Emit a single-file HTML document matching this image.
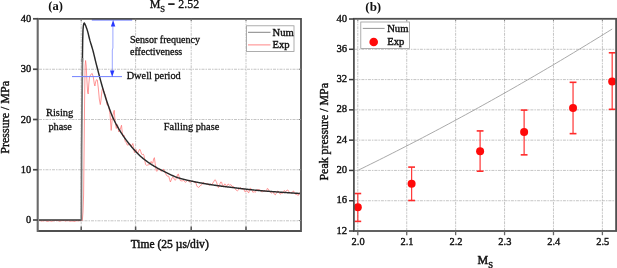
<!DOCTYPE html>
<html><head><meta charset="utf-8"><style>
html,body{margin:0;padding:0;background:#fff;}
svg{display:block;filter:blur(0.5px);}
text{font-family:"Liberation Serif", serif;fill:#111;stroke:#111;stroke-width:0.3px;}
.g{stroke:#a6a6a6;stroke-width:0.65;stroke-dasharray:3 1 1.5 1;}
.tk{font-size:10.4px;stroke-width:0.38px;}
.lg{font-size:10.6px;stroke-width:0.4px;}
.an{font-size:10.05px;}
.tt{font-size:13px;font-weight:bold;stroke-width:0;}
.mt{font-size:12px;}
.al{font-size:11.5px;stroke-width:0.45px;}
</style></head><body>
<svg width="617" height="268" viewBox="0 0 617 268">
<rect width="617" height="268" fill="#fff"/>
<line x1="39" y1="169.75" x2="300" y2="169.75" class="g"/>
<line x1="39" y1="119.50" x2="300" y2="119.50" class="g"/>
<line x1="39" y1="69.25" x2="300" y2="69.25" class="g"/>
<line x1="39" y1="220.80" x2="300" y2="220.80" class="g"/>
<line x1="81.20" y1="19.8" x2="81.20" y2="230" class="g"/>
<line x1="135.60" y1="19.8" x2="135.60" y2="230" class="g"/>
<line x1="191.20" y1="19.8" x2="191.20" y2="230" class="g"/>
<line x1="246.00" y1="19.8" x2="246.00" y2="230" class="g"/>

<path d="M39.00,220.58 L40.00,220.42 L41.00,220.86 L42.00,221.12 L43.00,220.82 L44.00,220.89 L45.00,220.41 L46.00,220.89 L47.00,221.34 L48.00,221.25 L49.00,221.13 L50.00,220.51 L51.00,221.29 L52.00,221.26 L53.00,220.57 L54.00,221.03 L55.00,220.42 L56.00,220.52 L57.00,220.72 L58.00,220.56 L59.00,221.16 L60.00,221.22 L61.00,220.74 L62.00,220.72 L63.00,220.51 L64.00,220.48 L65.00,221.11 L66.00,221.00 L67.00,220.46 L68.00,220.88 L69.00,220.80 L70.00,221.25 L71.00,221.12 L72.00,221.00 L73.00,220.95 L74.00,221.35 L75.00,221.39 L76.00,220.74 L77.00,220.64 L78.00,221.20 L79.00,220.46 L80.00,220.76 L81.00,220.47 L82.30,220.50 L83.00,212.00 L83.60,195.00 L84.10,150.00 L84.60,100.00 L85.10,66.00 L85.60,60.50 L86.20,66.00 L86.90,80.00 L87.60,92.00 L88.20,94.00 L88.80,84.00 L89.50,77.00 L90.80,74.50 L92.20,73.50 L93.30,77.00 L94.30,84.00 L94.90,86.00 L95.60,82.00 L96.50,79.60 L97.30,80.00 L98.30,88.00 L99.30,99.00 L100.30,104.60 L101.00,100.00 L101.80,92.00 L102.50,88.00 L103.30,90.00 L104.00,92.35 L105.50,95.24 L107.00,104.88 L108.50,105.19 L110.00,114.29 L111.20,130.42 L112.30,118.12 L113.20,114.19 L114.20,110.34 L115.20,122.36 L116.30,128.47 L117.50,124.65 L118.80,131.89 L120.00,129.86 L121.50,125.24 L122.60,135.92 L124.00,134.98 L125.30,141.83 L126.40,142.52 L127.20,145.01 L128.00,145.23 L128.80,144.62 L129.60,143.69 L130.40,144.18 L131.20,145.59 L132.00,145.42 L132.80,143.50 L133.60,146.88 L134.40,152.57 L135.20,151.87 L136.00,149.30 L136.80,151.59 L137.60,153.28 L138.40,151.90 L139.20,149.81 L140.00,149.37 L140.80,151.70 L141.60,154.18 L142.40,154.59 L143.20,154.05 L144.00,155.52 L144.80,160.58 L145.60,164.44 L146.40,165.29 L147.20,165.08 L148.00,165.07 L148.80,164.64 L149.60,164.41 L150.40,162.78 L151.20,161.43 L152.00,163.13 L152.80,163.15 L153.60,159.09 L154.40,157.66 L155.20,163.83 L156.00,170.28 L156.80,171.36 L157.60,169.72 L158.40,168.57 L159.20,168.81 L160.00,170.19 L160.80,171.04 L161.60,171.18 L162.40,170.41 L163.20,169.27 L164.00,169.60 L164.80,171.60 L165.60,173.66 L166.40,175.07 L167.20,176.10 L168.00,176.25 L168.80,176.28 L169.60,179.51 L170.40,181.97 L171.20,180.02 L172.00,177.87 L172.80,177.34 L173.60,177.73 L174.40,179.47 L175.20,180.32 L176.00,179.11 L176.80,176.99 L177.60,174.54 L178.40,174.10 L179.20,177.19 L180.00,180.21 L180.80,180.72 L181.60,180.84 L182.40,181.09 L183.20,180.22 L184.00,180.67 L184.80,181.83 L185.60,182.26 L186.40,181.63 L187.20,180.68 L188.00,180.25 L188.80,180.93 L189.60,182.12 L190.40,182.51 L191.20,181.46 L192.00,181.20 L192.80,181.02 L193.60,181.72 L194.40,182.33 L195.20,181.97 L196.00,183.23 L196.80,185.83 L197.60,186.95 L198.40,187.42 L199.20,187.02 L200.00,185.74 L200.80,185.35 L201.60,185.03 L202.40,183.57 L203.20,182.58 L204.00,182.76 L204.80,183.51 L205.60,183.63 L206.40,183.71 L207.20,183.36 L208.00,183.88 L208.80,185.22 L209.60,184.89 L210.40,184.16 L211.20,184.53 L212.00,184.37 L212.80,183.09 L213.60,181.92 L214.40,180.43 L215.20,179.68 L216.00,181.13 L216.80,182.94 L217.60,185.63 L218.40,187.56 L219.20,186.25 L220.00,183.64 L220.80,181.95 L221.60,182.29 L222.40,184.92 L223.20,186.03 L224.00,185.28 L224.80,183.88 L225.60,184.55 L226.40,186.36 L227.20,185.56 L228.00,184.05 L228.80,184.31 L229.60,185.35 L230.40,184.69 L231.20,184.95 L232.00,186.36 L232.80,186.52 L233.60,186.53 L234.40,187.23 L235.20,188.68 L236.00,190.07 L236.80,190.40 L237.60,190.76 L238.40,190.08 L239.20,188.37 L240.00,187.54 L240.80,187.96 L241.60,189.12 L242.40,188.87 L243.20,188.21 L244.00,189.68 L244.80,191.61 L245.60,191.76 L246.40,190.73 L247.20,190.64 L248.00,192.30 L248.80,192.75 L249.60,189.85 L250.40,188.22 L251.20,188.77 L252.00,190.28 L252.80,192.19 L253.60,192.05 L254.40,191.78 L255.20,192.23 L256.00,191.54 L256.80,189.78 L257.60,189.55 L258.40,189.62 L259.20,189.81 L260.00,190.06 L260.80,190.38 L261.60,191.80 L262.40,191.96 L263.20,190.87 L264.00,190.23 L264.80,190.74 L265.60,191.99 L266.40,190.94 L267.20,188.58 L268.00,188.73 L268.80,189.90 L269.60,191.37 L270.40,192.13 L271.20,192.77 L272.00,193.19 L272.80,192.38 L273.60,192.72 L274.40,194.20 L275.20,194.91 L276.00,193.83 L276.80,192.08 L277.60,190.96 L278.40,191.51 L279.20,192.65 L280.00,194.01 L280.80,193.92 L281.60,193.16 L282.40,193.36 L283.20,192.76 L284.00,190.69 L284.80,190.85 L285.60,191.64 L286.40,190.91 L287.20,190.03 L288.00,190.10 L288.80,191.55 L289.60,192.79 L290.40,193.00 L291.20,192.52 L292.00,192.31 L292.80,191.43 L293.60,191.01 L294.40,192.72 L295.20,194.02 L296.00,194.60 L296.80,194.11 L297.60,195.23 L298.40,195.27 L299.20,193.13 L300.00,192.31" fill="none" stroke="#ff7272" stroke-width="0.95" stroke-opacity="0.78" stroke-linejoin="round"/>
<path d="M82.40,62.00 L82.70,40.00 L83.00,30.00 L83.40,25.50 L83.90,23.40 L84.40,23.00 L84.90,23.98 L85.40,25.09 L85.90,26.33 L86.40,27.67 L86.90,29.10 L87.40,30.63 L87.90,32.42 L88.40,34.41 L88.90,36.47 L89.40,38.51 L89.90,40.40 L90.40,42.12 L90.90,43.74 L91.40,45.33 L91.90,46.93 L92.40,48.59 L92.90,50.37 L93.40,52.28 L93.90,54.30 L94.40,56.37 L94.90,58.48 L95.40,60.57 L95.90,62.60 L96.40,64.58 L96.90,66.55 L97.40,68.50 L97.90,70.44 L98.40,72.36 L98.90,74.26 L99.40,76.13 L99.90,77.98 L100.40,79.82 L100.90,81.64 L101.40,83.44 L101.90,85.21 L102.40,86.95 L102.90,88.66 L103.40,90.34 L103.90,92.01 L104.40,93.67 L104.90,95.31 L105.40,96.92 L105.90,98.51 L106.40,100.06 L106.90,101.58 L107.40,103.06 L107.90,104.50 L108.40,105.91 L108.90,107.30 L109.40,108.67 L109.90,110.02 L110.40,111.35 L110.90,112.65 L111.40,113.92 L111.90,115.16 L112.40,116.36 L112.90,117.52 L113.40,118.64 L113.90,119.71 L114.40,120.75 L114.90,121.77 L115.40,122.75 L115.90,123.72 L116.40,124.66 L116.90,125.57 L117.40,126.47 L117.90,127.35 L118.40,128.21 L118.90,129.06 L119.40,129.89 L119.90,130.70 L120.40,131.51 L120.90,132.30 L121.40,133.08 L121.90,133.86 L122.40,134.62 L122.90,135.37 L123.40,136.11 L123.90,136.84 L124.40,137.56 L124.90,138.27 L125.40,138.96 L125.90,139.65 L126.40,140.33 L126.90,141.00 L127.40,141.66 L127.90,142.30 L128.40,142.94 L128.90,143.57 L129.40,144.19 L129.90,144.80 L130.40,145.40 L130.90,146.00 L131.40,146.59 L131.90,147.18 L132.40,147.77 L132.90,148.35 L133.40,148.92 L133.90,149.48 L134.40,150.04 L134.90,150.60 L135.40,151.14 L135.90,151.68 L136.40,152.22 L136.90,152.74 L137.40,153.25 L137.90,153.76 L138.40,154.26 L138.90,154.75 L139.40,155.23 L139.90,155.70 L140.40,156.16 L140.90,156.61 L141.40,157.06 L141.90,157.49 L142.40,157.91 L142.90,158.32 L143.40,158.73 L143.90,159.13 L144.40,159.52 L144.90,159.91 L145.40,160.29 L145.90,160.67 L146.40,161.04 L146.90,161.40 L147.40,161.76 L147.90,162.12 L148.40,162.46 L148.90,162.81 L149.40,163.15 L149.90,163.48 L150.40,163.81 L150.90,164.14 L151.40,164.46 L151.90,164.78 L152.40,165.10 L152.90,165.41 L153.40,165.72 L153.90,166.02 L154.40,166.32 L154.90,166.62 L155.40,166.91 L155.90,167.20 L156.40,167.49 L156.90,167.77 L157.40,168.05 L157.90,168.32 L158.40,168.60 L158.90,168.86 L159.40,169.13 L159.90,169.39 L160.40,169.65 L160.90,169.91 L161.40,170.17 L161.90,170.42 L162.40,170.67 L162.90,170.92 L163.40,171.17 L163.90,171.42 L164.40,171.67 L164.90,171.91 L165.40,172.15 L165.90,172.40 L166.40,172.64 L166.90,172.89 L167.40,173.13 L167.90,173.38 L168.40,173.62 L168.90,173.87 L169.40,174.11 L169.90,174.36 L170.40,174.60 L170.90,174.84 L171.40,175.07 L171.90,175.31 L172.40,175.53 L172.90,175.76 L173.40,175.98 L173.90,176.20 L174.40,176.41 L174.90,176.61 L175.40,176.81 L175.90,177.00 L176.40,177.19 L176.90,177.36 L177.40,177.53 L177.90,177.70 L178.40,177.85 L178.90,178.01 L179.40,178.16 L179.90,178.31 L180.40,178.45 L180.90,178.60 L181.40,178.74 L181.90,178.87 L182.40,179.01 L182.90,179.14 L183.40,179.27 L183.90,179.39 L184.40,179.52 L184.90,179.64 L185.40,179.76 L185.90,179.88 L186.40,179.99 L186.90,180.11 L187.40,180.22 L187.90,180.34 L188.40,180.45 L188.90,180.56 L189.40,180.67 L189.90,180.77 L190.40,180.88 L190.90,180.99 L191.40,181.09 L191.90,181.20 L192.40,181.31 L192.90,181.41 L193.40,181.51 L193.90,181.62 L194.40,181.72 L194.90,181.82 L195.40,181.92 L195.90,182.02 L196.40,182.12 L196.90,182.21 L197.40,182.31 L197.90,182.41 L198.40,182.50 L198.90,182.60 L199.40,182.69 L199.90,182.78 L200.40,182.88 L200.90,182.97 L201.40,183.06 L201.90,183.15 L202.40,183.24 L202.90,183.33 L203.40,183.42 L203.90,183.50 L204.40,183.59 L204.90,183.68 L205.40,183.76 L205.90,183.85 L206.40,183.93 L206.90,184.01 L207.40,184.10 L207.90,184.18 L208.40,184.26 L208.90,184.34 L209.40,184.42 L209.90,184.50 L210.40,184.58 L210.90,184.66 L211.40,184.74 L211.90,184.81 L212.40,184.89 L212.90,184.96 L213.40,185.04 L213.90,185.11 L214.40,185.19 L214.90,185.26 L215.40,185.33 L215.90,185.41 L216.40,185.48 L216.90,185.55 L217.40,185.62 L217.90,185.69 L218.40,185.76 L218.90,185.82 L219.40,185.89 L219.90,185.96 L220.40,186.02 L220.90,186.09 L221.40,186.16 L221.90,186.22 L222.40,186.29 L222.90,186.35 L223.40,186.41 L223.90,186.48 L224.40,186.54 L224.90,186.60 L225.40,186.66 L225.90,186.73 L226.40,186.79 L226.90,186.85 L227.40,186.91 L227.90,186.97 L228.40,187.03 L228.90,187.09 L229.40,187.15 L229.90,187.21 L230.40,187.27 L230.90,187.33 L231.40,187.39 L231.90,187.45 L232.40,187.51 L232.90,187.57 L233.40,187.64 L233.90,187.70 L234.40,187.76 L234.90,187.82 L235.40,187.88 L235.90,187.94 L236.40,188.00 L236.90,188.06 L237.40,188.12 L237.90,188.18 L238.40,188.24 L238.90,188.30 L239.40,188.36 L239.90,188.42 L240.40,188.49 L240.90,188.55 L241.40,188.61 L241.90,188.67 L242.40,188.73 L242.90,188.79 L243.40,188.85 L243.90,188.91 L244.40,188.97 L244.90,189.03 L245.40,189.09 L245.90,189.15 L246.40,189.21 L246.90,189.27 L247.40,189.33 L247.90,189.39 L248.40,189.44 L248.90,189.50 L249.40,189.56 L249.90,189.61 L250.40,189.67 L250.90,189.73 L251.40,189.78 L251.90,189.84 L252.40,189.89 L252.90,189.94 L253.40,190.00 L253.90,190.05 L254.40,190.10 L254.90,190.15 L255.40,190.20 L255.90,190.25 L256.40,190.30 L256.90,190.34 L257.40,190.39 L257.90,190.44 L258.40,190.48 L258.90,190.53 L259.40,190.57 L259.90,190.62 L260.40,190.66 L260.90,190.70 L261.40,190.74 L261.90,190.79 L262.40,190.83 L262.90,190.87 L263.40,190.91 L263.90,190.95 L264.40,190.99 L264.90,191.03 L265.40,191.07 L265.90,191.11 L266.40,191.15 L266.90,191.19 L267.40,191.23 L267.90,191.26 L268.40,191.30 L268.90,191.34 L269.40,191.38 L269.90,191.41 L270.40,191.45 L270.90,191.49 L271.40,191.52 L271.90,191.56 L272.40,191.60 L272.90,191.63 L273.40,191.67 L273.90,191.71 L274.40,191.74 L274.90,191.78 L275.40,191.81 L275.90,191.85 L276.40,191.88 L276.90,191.92 L277.40,191.96 L277.90,191.99 L278.40,192.03 L278.90,192.06 L279.40,192.10 L279.90,192.14 L280.40,192.17 L280.90,192.21 L281.40,192.24 L281.90,192.28 L282.40,192.31 L282.90,192.35 L283.40,192.38 L283.90,192.42 L284.40,192.45 L284.90,192.49 L285.40,192.52 L285.90,192.56 L286.40,192.59 L286.90,192.63 L287.40,192.66 L287.90,192.70 L288.40,192.73 L288.90,192.76 L289.40,192.80 L289.90,192.83 L290.40,192.87 L290.90,192.90 L291.40,192.93 L291.90,192.97 L292.40,193.00 L292.90,193.03 L293.40,193.06 L293.90,193.10 L294.40,193.13 L294.90,193.16 L295.40,193.20 L295.90,193.23 L296.40,193.26 L296.90,193.29 L297.40,193.32 L297.90,193.36 L298.40,193.39 L298.90,193.42 L299.40,193.45 L299.90,193.48" fill="none" stroke="#2a2a2a" stroke-width="1.45" stroke-linejoin="round"/>
<path d="M39.00,220.00 L81.40,220.00" fill="none" stroke="#333" stroke-width="1.35"/>
<path d="M81.35,220.60 L81.60,150.00 L82.15,90.00 L82.45,58.00" fill="none" stroke="#727272" stroke-width="1.75"/>

<line x1="91.8" y1="19.9" x2="132.2" y2="19.9" stroke="#5a6aff" stroke-width="1.1"/>
<line x1="72" y1="76.6" x2="122" y2="76.6" stroke="#7282ff" stroke-width="1.0"/>
<path d="M112.9,24 L112.9,48 L112.3,50 L112.3,72" fill="none" stroke="#7a88ff" stroke-width="0.75"/>
<path d="M113.1,19.9 L110.9,26.5 L115.3,26.5 Z" fill="#2838ff"/>
<path d="M112.2,77.0 L110.0,70.4 L114.4,70.4 Z" fill="#2838ff"/>
<path d="M37.1,18.8 H301 V231 H37.1" fill="none" stroke="#505050" stroke-width="1.8"/>
<line x1="37.7" y1="17.900000000000002" x2="37.7" y2="231.9" stroke="#6a6a6a" stroke-width="2.1"/>
<line x1="33" y1="220.00" x2="38" y2="220.00" stroke="#4a4a4a" stroke-width="1.7"/>
<text x="31.2" y="223.10" text-anchor="end" class="tk">0</text>
<line x1="33" y1="169.75" x2="38" y2="169.75" stroke="#4a4a4a" stroke-width="1.7"/>
<text x="31.2" y="172.85" text-anchor="end" class="tk">10</text>
<line x1="33" y1="119.50" x2="38" y2="119.50" stroke="#4a4a4a" stroke-width="1.7"/>
<text x="31.2" y="122.60" text-anchor="end" class="tk">20</text>
<line x1="33" y1="69.25" x2="38" y2="69.25" stroke="#4a4a4a" stroke-width="1.7"/>
<text x="31.2" y="72.35" text-anchor="end" class="tk">30</text>
<line x1="33" y1="18.80" x2="38" y2="18.80" stroke="#4a4a4a" stroke-width="1.7"/>
<text x="31.2" y="21.90" text-anchor="end" class="tk">40</text>
<line x1="81.2" y1="231" x2="81.2" y2="226.5" stroke="#555" stroke-width="1.5"/>
<line x1="135.6" y1="231" x2="135.6" y2="226.5" stroke="#555" stroke-width="1.5"/>
<line x1="191.2" y1="231" x2="191.2" y2="226.5" stroke="#555" stroke-width="1.5"/>
<line x1="246" y1="231" x2="246" y2="226.5" stroke="#555" stroke-width="1.5"/>
<line x1="81.2" y1="18.8" x2="81.2" y2="21.0" stroke="#777" stroke-width="1.1"/>
<line x1="135.6" y1="18.8" x2="135.6" y2="21.0" stroke="#777" stroke-width="1.1"/>
<line x1="191.2" y1="18.8" x2="191.2" y2="21.0" stroke="#777" stroke-width="1.1"/>
<line x1="246" y1="18.8" x2="246" y2="21.0" stroke="#777" stroke-width="1.1"/>
<line x1="298.6" y1="169.75" x2="301" y2="169.75" stroke="#888" stroke-width="1.0"/>
<line x1="298.6" y1="119.50" x2="301" y2="119.50" stroke="#888" stroke-width="1.0"/>
<line x1="298.6" y1="69.25" x2="301" y2="69.25" stroke="#888" stroke-width="1.0"/>
<line x1="298.6" y1="220.50" x2="301" y2="220.50" stroke="#888" stroke-width="1.0"/>
<rect x="246.5" y="25.8" width="47.5" height="25.6" fill="#fff" stroke="#999" stroke-width="0.8"/>
<line x1="248" y1="32.3" x2="270.5" y2="32.3" stroke="#777" stroke-width="0.9"/>
<line x1="248" y1="44.9" x2="270.5" y2="44.9" stroke="#ff7777" stroke-width="0.9"/>
<text x="272.6" y="35.6" class="lg">Num</text>
<text x="272.6" y="48.0" class="lg">Exp</text>
<text x="130" y="42.7" class="an">Sensor frequency</text>
<text x="130" y="54.9" class="an">effectiveness</text>
<text x="126.7" y="78.9" class="an" style="font-size:10.3px">Dwell period</text>
<text x="59.6" y="115.9" text-anchor="middle" class="an" style="font-size:10.4px">Rising</text>
<text x="60.2" y="130.4" text-anchor="middle" class="an" style="font-size:10.3px">phase</text>
<text x="163.8" y="129.5" class="an" style="font-size:10.35px">Falling phase</text>
<text x="48.3" y="9.7" class="tt" style="font-size:12.5px">(a)</text>
<text x="149.7" y="7.95" class="mt">M</text>
<text x="160.3" y="11.7" class="mt" style="font-size:8.5px">S</text>
<rect x="168.2" y="3.25" width="6.4" height="1.7" fill="#1a1a1a"/>
<text x="178.3" y="7.95" class="mt" style="font-size:11.9px">2.52</text>
<text x="169.7" y="248.4" text-anchor="middle" class="al" style="font-size:11.55px">Time (25 µs/div)</text>
<text transform="translate(9.3,117.3) rotate(-90)" text-anchor="middle" class="al" style="font-weight:normal;font-size:12px;stroke-width:0.4px">Pressure / MPa</text>
<line x1="354.9" y1="200.72" x2="615.1" y2="200.72" class="g"/>
<line x1="354.9" y1="170.43" x2="615.1" y2="170.43" class="g"/>
<line x1="354.9" y1="140.15" x2="615.1" y2="140.15" class="g"/>
<line x1="354.9" y1="109.86" x2="615.1" y2="109.86" class="g"/>
<line x1="354.9" y1="79.58" x2="615.1" y2="79.58" class="g"/>
<line x1="354.9" y1="49.30" x2="615.1" y2="49.30" class="g"/>
<line x1="357.80" y1="19.8" x2="357.80" y2="230" class="g"/>
<line x1="406.72" y1="19.8" x2="406.72" y2="230" class="g"/>
<line x1="455.64" y1="19.8" x2="455.64" y2="230" class="g"/>
<line x1="504.56" y1="19.8" x2="504.56" y2="230" class="g"/>
<line x1="553.48" y1="19.8" x2="553.48" y2="230" class="g"/>
<line x1="602.40" y1="19.8" x2="602.40" y2="230" class="g"/>
<path d="M357.80,170.43 L362.11,168.32 L366.42,166.20 L370.73,164.07 L375.05,161.93 L379.36,159.79 L383.67,157.63 L387.98,155.46 L392.29,153.28 L396.60,151.09 L400.92,148.89 L405.23,146.68 L409.54,144.46 L413.85,142.24 L418.16,140.00 L422.47,137.75 L426.79,135.49 L431.10,133.22 L435.41,130.95 L439.72,128.66 L444.03,126.36 L448.34,124.05 L452.66,121.73 L456.97,119.41 L461.28,117.07 L465.59,114.72 L469.90,112.37 L474.21,110.00 L478.52,107.62 L482.84,105.23 L487.15,102.84 L491.46,100.43 L495.77,98.01 L500.08,95.59 L504.39,93.15 L508.71,90.71 L513.02,88.25 L517.33,85.78 L521.64,83.31 L525.95,80.82 L530.26,78.33 L534.58,75.82 L538.89,73.30 L543.20,70.78 L547.51,68.24 L551.82,65.70 L556.13,63.14 L560.44,60.58 L564.76,58.00 L569.07,55.42 L573.38,52.82 L577.69,50.22 L582.00,47.60 L586.31,44.98 L590.63,42.34 L594.94,39.70 L599.25,37.05 L603.56,34.38 L607.87,31.71 L612.18,29.02" fill="none" stroke="#999" stroke-width="0.85"/>
<line x1="357.80" y1="193.52" x2="357.80" y2="221.38" stroke="#ff3c3c" stroke-width="1.25"/>
<line x1="354.40" y1="193.52" x2="361.20" y2="193.52" stroke="#ff2a2a" stroke-width="1.6"/>
<line x1="354.40" y1="221.38" x2="361.20" y2="221.38" stroke="#ff2a2a" stroke-width="1.6"/>
<circle cx="357.80" cy="207.30" r="4.0" fill="#ff0a0a"/>
<line x1="411.61" y1="167.10" x2="411.61" y2="200.49" stroke="#ff3c3c" stroke-width="1.25"/>
<line x1="408.21" y1="167.10" x2="415.01" y2="167.10" stroke="#ff2a2a" stroke-width="1.6"/>
<line x1="408.21" y1="200.49" x2="415.01" y2="200.49" stroke="#ff2a2a" stroke-width="1.6"/>
<circle cx="411.61" cy="183.83" r="4.0" fill="#ff0a0a"/>
<line x1="480.10" y1="130.91" x2="480.10" y2="171.19" stroke="#ff3c3c" stroke-width="1.25"/>
<line x1="476.70" y1="130.91" x2="483.50" y2="130.91" stroke="#ff2a2a" stroke-width="1.6"/>
<line x1="476.70" y1="171.19" x2="483.50" y2="171.19" stroke="#ff2a2a" stroke-width="1.6"/>
<circle cx="480.10" cy="151.13" r="4.0" fill="#ff0a0a"/>
<line x1="524.13" y1="110.09" x2="524.13" y2="154.84" stroke="#ff3c3c" stroke-width="1.25"/>
<line x1="520.73" y1="110.09" x2="527.53" y2="110.09" stroke="#ff2a2a" stroke-width="1.6"/>
<line x1="520.73" y1="154.84" x2="527.53" y2="154.84" stroke="#ff2a2a" stroke-width="1.6"/>
<circle cx="524.13" cy="131.97" r="4.0" fill="#ff0a0a"/>
<line x1="573.05" y1="82.31" x2="573.05" y2="133.64" stroke="#ff3c3c" stroke-width="1.25"/>
<line x1="569.65" y1="82.31" x2="576.45" y2="82.31" stroke="#ff2a2a" stroke-width="1.6"/>
<line x1="569.65" y1="133.64" x2="576.45" y2="133.64" stroke="#ff2a2a" stroke-width="1.6"/>
<circle cx="573.05" cy="107.97" r="4.0" fill="#ff0a0a"/>
<line x1="612.18" y1="52.78" x2="612.18" y2="109.33" stroke="#ff3c3c" stroke-width="1.25"/>
<line x1="608.78" y1="52.78" x2="615.58" y2="52.78" stroke="#ff2a2a" stroke-width="1.6"/>
<line x1="608.78" y1="109.33" x2="615.58" y2="109.33" stroke="#ff2a2a" stroke-width="1.6"/>
<circle cx="612.18" cy="81.47" r="4.0" fill="#ff0a0a"/>
<rect x="353.9" y="18.8" width="262.20000000000005" height="212.2" fill="none" stroke="#505050" stroke-width="1.8"/>
<line x1="349" y1="231.00" x2="353.9" y2="231.00" stroke="#3a3a3a" stroke-width="1.5"/>
<text x="347.2" y="233.50" text-anchor="end" class="tk" style="font-size:10.7px">12</text>
<line x1="349" y1="200.72" x2="353.9" y2="200.72" stroke="#3a3a3a" stroke-width="1.5"/>
<text x="347.2" y="203.22" text-anchor="end" class="tk" style="font-size:10.7px">16</text>
<line x1="349" y1="170.43" x2="353.9" y2="170.43" stroke="#3a3a3a" stroke-width="1.5"/>
<text x="347.2" y="172.93" text-anchor="end" class="tk" style="font-size:10.7px">20</text>
<line x1="349" y1="140.15" x2="353.9" y2="140.15" stroke="#3a3a3a" stroke-width="1.5"/>
<text x="347.2" y="142.65" text-anchor="end" class="tk" style="font-size:10.7px">24</text>
<line x1="349" y1="109.86" x2="353.9" y2="109.86" stroke="#3a3a3a" stroke-width="1.5"/>
<text x="347.2" y="112.36" text-anchor="end" class="tk" style="font-size:10.7px">28</text>
<line x1="349" y1="79.58" x2="353.9" y2="79.58" stroke="#3a3a3a" stroke-width="1.5"/>
<text x="347.2" y="82.08" text-anchor="end" class="tk" style="font-size:10.7px">32</text>
<line x1="349" y1="49.30" x2="353.9" y2="49.30" stroke="#3a3a3a" stroke-width="1.5"/>
<text x="347.2" y="51.80" text-anchor="end" class="tk" style="font-size:10.7px">36</text>
<line x1="349" y1="19.01" x2="353.9" y2="19.01" stroke="#3a3a3a" stroke-width="1.5"/>
<text x="347.2" y="21.51" text-anchor="end" class="tk" style="font-size:10.7px">40</text>
<line x1="357.80" y1="231" x2="357.80" y2="235.2" stroke="#666" stroke-width="1.3"/>
<text x="358.10" y="245.1" text-anchor="middle" class="tk" style="font-size:10.4px">2.0</text>
<line x1="406.72" y1="231" x2="406.72" y2="235.2" stroke="#666" stroke-width="1.3"/>
<text x="407.02" y="245.1" text-anchor="middle" class="tk" style="font-size:10.4px">2.1</text>
<line x1="455.64" y1="231" x2="455.64" y2="235.2" stroke="#666" stroke-width="1.3"/>
<text x="455.94" y="245.1" text-anchor="middle" class="tk" style="font-size:10.4px">2.2</text>
<line x1="504.56" y1="231" x2="504.56" y2="235.2" stroke="#666" stroke-width="1.3"/>
<text x="504.86" y="245.1" text-anchor="middle" class="tk" style="font-size:10.4px">2.3</text>
<line x1="553.48" y1="231" x2="553.48" y2="235.2" stroke="#666" stroke-width="1.3"/>
<text x="553.78" y="245.1" text-anchor="middle" class="tk" style="font-size:10.4px">2.4</text>
<line x1="602.40" y1="231" x2="602.40" y2="235.2" stroke="#666" stroke-width="1.3"/>
<text x="602.70" y="245.1" text-anchor="middle" class="tk" style="font-size:10.4px">2.5</text>
<line x1="357.80" y1="18.8" x2="357.80" y2="20.8" stroke="#777" stroke-width="1.0"/>
<line x1="406.72" y1="18.8" x2="406.72" y2="20.8" stroke="#777" stroke-width="1.0"/>
<line x1="455.64" y1="18.8" x2="455.64" y2="20.8" stroke="#777" stroke-width="1.0"/>
<line x1="504.56" y1="18.8" x2="504.56" y2="20.8" stroke="#777" stroke-width="1.0"/>
<line x1="553.48" y1="18.8" x2="553.48" y2="20.8" stroke="#777" stroke-width="1.0"/>
<line x1="602.40" y1="18.8" x2="602.40" y2="20.8" stroke="#777" stroke-width="1.0"/>
<rect x="360.8" y="22" width="48.6" height="26.4" fill="#fff" stroke="#999" stroke-width="0.8"/>
<line x1="362.8" y1="28.4" x2="384.6" y2="28.4" stroke="#888" stroke-width="0.9"/>
<circle cx="373.7" cy="42.0" r="4.3" fill="#ff0a0a"/>
<text x="387.2" y="31.6" class="lg">Num</text>
<text x="387.2" y="45.0" class="lg">Exp</text>
<text x="365.3" y="11.4" class="tt">(b)</text>
<text x="477.6" y="264.2" class="al" style="font-size:12px">M<tspan style="font-size:8.5px" dy="3.4">S</tspan></text>
<text transform="translate(328.3,131.8) rotate(-90)" text-anchor="middle" class="al" style="font-weight:normal;font-size:11.9px;stroke-width:0.4px">Peak pressure / MPa</text>
</svg>
</body></html>
